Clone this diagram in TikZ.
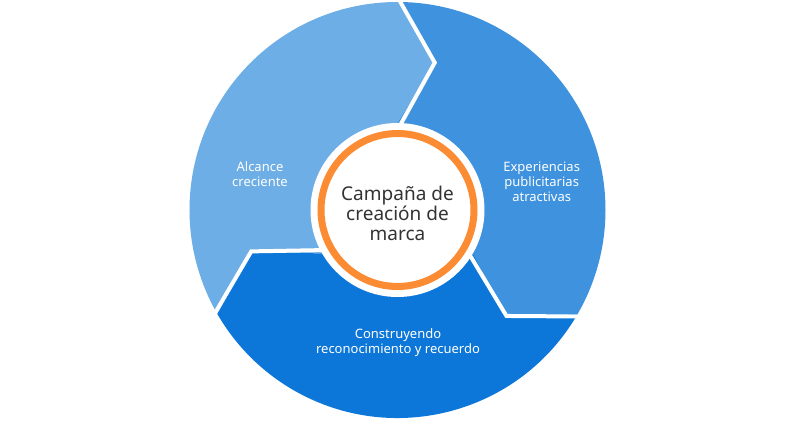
\documentclass[tikz,border=0pt]{standalone}
\usepackage{fontspec}
\usepackage{xcolor}
\usepackage{tikz}
\setmainfont{Noto Sans}
\definecolor{skyLight}{RGB}{108,174,229}
\definecolor{skyMid}{RGB}{62,146,222}
\definecolor{skyDeep}{RGB}{12,119,216}
\definecolor{ringOrange}{RGB}{252,140,52}
\definecolor{textGray}{RGB}{51,51,51}

\begin{document}
\begin{tikzpicture}[x=1pt, y=1pt,
		gap/.style={draw=white, line width=4pt, line join=miter},
		label/.style={text=white, align=center, font=\fontsize{13}{15}\selectfont}]
	\tikzset{hub/.style={circle, fill=white, minimum size=174pt, inner sep=0pt}}
	\useasboundingbox (-397.5,-211) rectangle (397.5,210);
	\fill[skyLight] (90:208) arc[start angle=90, end angle=210, radius=208]
		-- (195.8:152) -- (210:87) -- (0,0) -- (90:87) -- (75.8:152) -- cycle;
	\fill[skyMid] (90:208) arc[start angle=90, end angle=-30, radius=208]
		-- (-44.2:152) -- (-30:87) -- (0,0) -- (90:87) -- (75.8:152) -- cycle;
	\fill[skyDeep] (-30:208) arc[start angle=-30, end angle=-150, radius=208]
		-- (195.8:152) -- (210:87) -- (0,0) -- (-30:87) -- (-44.2:152) -- cycle;
	\foreach \a in {90,210,-30}
		\draw[gap] (\a:213) -- (\a-14.2:152) -- (\a:80);
	\node[hub] (hub) at (0,0) {};
	\draw[ringOrange, line width=7pt] (hub.center) circle[radius=76.5];
	\node[text=textGray, align=center, font=\fontsize{19}{20}\selectfont] (campaign) at (0,-3)
		{Campaña de\\creación de\\marca};
	\node[label] (reach) at (-137.5,35.5) {Alcance\\creciente};
	\node[label] (ads) at (144.2,28) {Experiencias\\publicitarias\\atractivas};
	\node[label] (recall) at (0.5,-132.5) {Construyendo\\reconocimiento y recuerdo};
\end{tikzpicture}
\end{document}
